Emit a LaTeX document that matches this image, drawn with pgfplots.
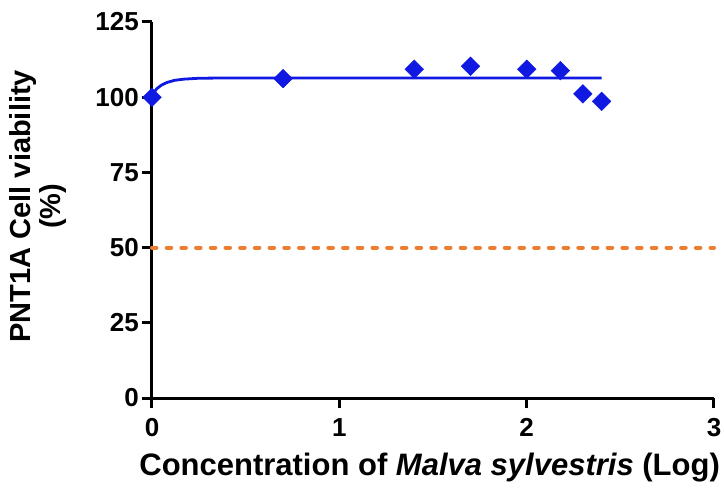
\documentclass[border=0pt]{standalone}
\usepackage{pgfplots}
\pgfplotsset{compat=1.18}
\usepackage{fontspec}
\setmainfont{Liberation Sans}
\definecolor{fitblue}{RGB}{15,25,225}
\definecolor{halforange}{RGB}{237,125,49}
\begin{document}
\begin{tikzpicture}
\begin{axis}[
  at={(0,0)}, anchor=south west,
  scale only axis, width=562pt, height=376pt,
  xmin=0, xmax=3, ymin=0, ymax=125,
  xtick={0,1,2,3}, ytick={0,25,50,75,100,125},
  axis x line=bottom, axis y line=left,
  axis line style={-, line width=3pt, black},
  tick align=outside, major tick length=10pt,
  tick style={line width=3pt, black},
  /pgf/number format/assume math mode=true,
  tick label style={font=\bfseries\fontsize{26}{26}\selectfont},
  xticklabel style={inner sep=2pt, yshift=-8pt},
  yticklabel style={inner sep=3pt},
  clip=false,
  xlabel={Concentration of \textit{Malva sylvestris} (Log)},
  xlabel style={font=\bfseries\fontsize{31}{33}\selectfont, at={(axis description cs:0.494,-0.207)}, anchor=base},
  ylabel={PNT1A Cell viability\\(\%)},
  ylabel style={font=\bfseries\fontsize{29}{30}\selectfont, align=center, inner sep=0pt, at={(axis description cs:-0.152,0.51)}, anchor=south},
]
% 50% viability reference
\addplot[halforange, line width=4pt, line cap=round, dash pattern=on 4.5pt off 10.2pt] coordinates {(0,50) (3,50)};
% fitted dose-response curve
\addplot[fitblue, line width=2.8pt, no marks] coordinates {
  (0,100) (0.01,101.5) (0.025,102.8) (0.05,104.0) (0.08,104.9) (0.12,105.6)
  (0.17,106.0) (0.25,106.3) (0.4,106.4) (2.4,106.4)
};
% measured viability
\addplot[only marks, mark=square*, mark size=6.6pt, fitblue, mark options={rotate=45, fill=fitblue, draw=fitblue}] coordinates {
  (0,100) (0.7,106.2) (1.4,109.3) (1.7,110.3) (2.0,109.3) (2.18,108.8) (2.3,101.1) (2.4,98.6)
};
\end{axis}
\pgfresetboundingbox
\path[use as bounding box] (-152pt,-90pt) rectangle (572pt,398pt);
\end{tikzpicture}
\end{document}
